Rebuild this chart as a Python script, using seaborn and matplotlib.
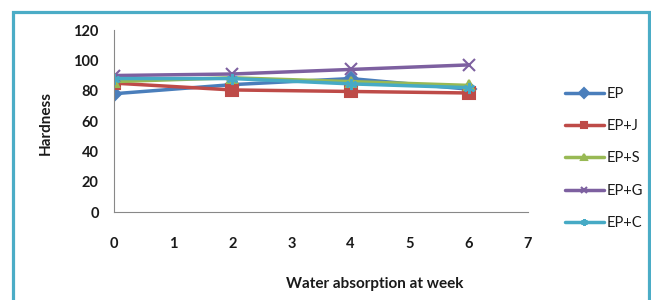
import numpy as np
import pandas as pd
import seaborn as sns
from matplotlib import pyplot as plt
from matplotlib.patches import Rectangle

weeks = [0, 2, 4, 6]
ep = [78, 84, 88, 81]
ep_j = [85, 80.5, 79.5, 78.5]
ep_s = [86, 88.5, 86, 83.5]
ep_g = [90, 91, 94, 97]
ep_c = [88, 88, 84.5, 82]
series = ['EP', 'EP+J', 'EP+S', 'EP+G', 'EP+C']
colors = ['#4A7EBB', '#BE4B48', '#98B954', '#7D60A0', '#46AAC5']
markers = ['D', 's', '^', 'x', (6, 2, 0)]
msizes = [7, 8, 7.5, 8, 8]

df = pd.DataFrame({
    'week': weeks * 5,
    'hardness': ep + ep_j + ep_s + ep_g + ep_c,
    'series': np.repeat(series, len(weeks)),
})

sns.set_style('white')
plt.rcParams['font.family'] = ['Lato', 'DejaVu Sans']

fig = plt.figure(figsize=(6.51, 3.0), dpi=100)
ax = fig.add_axes([0.175, 0.293, 0.636, 0.607])

# one call per series, seaborn won't mix filled and line markers
for name, c, m, ms in zip(series, colors, markers, msizes):
    sub = df[df['series'] == name]
    sns.lineplot(data=sub, x='week', y='hardness', color=c, marker=m,
                 linewidth=2.5, markersize=ms, markeredgewidth=1.5,
                 markeredgecolor=c, label=name, ax=ax)

ax.set_xlim(0, 7)
ax.set_ylim(0, 120)
ax.set_xticks(range(0, 8))
ax.set_yticks(range(0, 121, 20))
ax.tick_params(axis='both', length=0, labelsize=10.5, colors='#1a1a1a')
ax.tick_params(axis='x', pad=18)
ax.tick_params(axis='y', pad=11)
for lab in ax.get_xticklabels() + ax.get_yticklabels():
    lab.set_fontweight('bold')
for s in ['top', 'right']:
    ax.spines[s].set_visible(False)
for s in ['left', 'bottom']:
    ax.spines[s].set_color('#888888')
    ax.spines[s].set_linewidth(0.8)

ax.set_xlabel('Water absorption at week', fontsize=11, fontweight='bold',
              color='#1a1a1a')
ax.xaxis.set_label_coords(0.63, -0.355)
ax.set_ylabel('Hardness', fontsize=11, fontweight='bold', color='#1a1a1a')
ax.yaxis.set_label_coords(-0.147, 0.49)

leg = ax.legend(loc='center left', bbox_to_anchor=(0.847, 0.472),
                bbox_transform=fig.transFigure, frameon=False, fontsize=10.5,
                handlelength=2.7, labelspacing=1.25, handletextpad=0.2)
for t in leg.get_texts():
    t.set_color('#1a1a1a')
for h in leg.legend_handles:
    h.set_markersize(5)

fig.patches.append(Rectangle((13 / 651, -0.1), 636 / 651, 1.1 - 12 / 300,
                             transform=fig.transFigure, fill=False,
                             edgecolor='#4BACC6', linewidth=2.3))

fig.savefig('out.png', dpi=100)
